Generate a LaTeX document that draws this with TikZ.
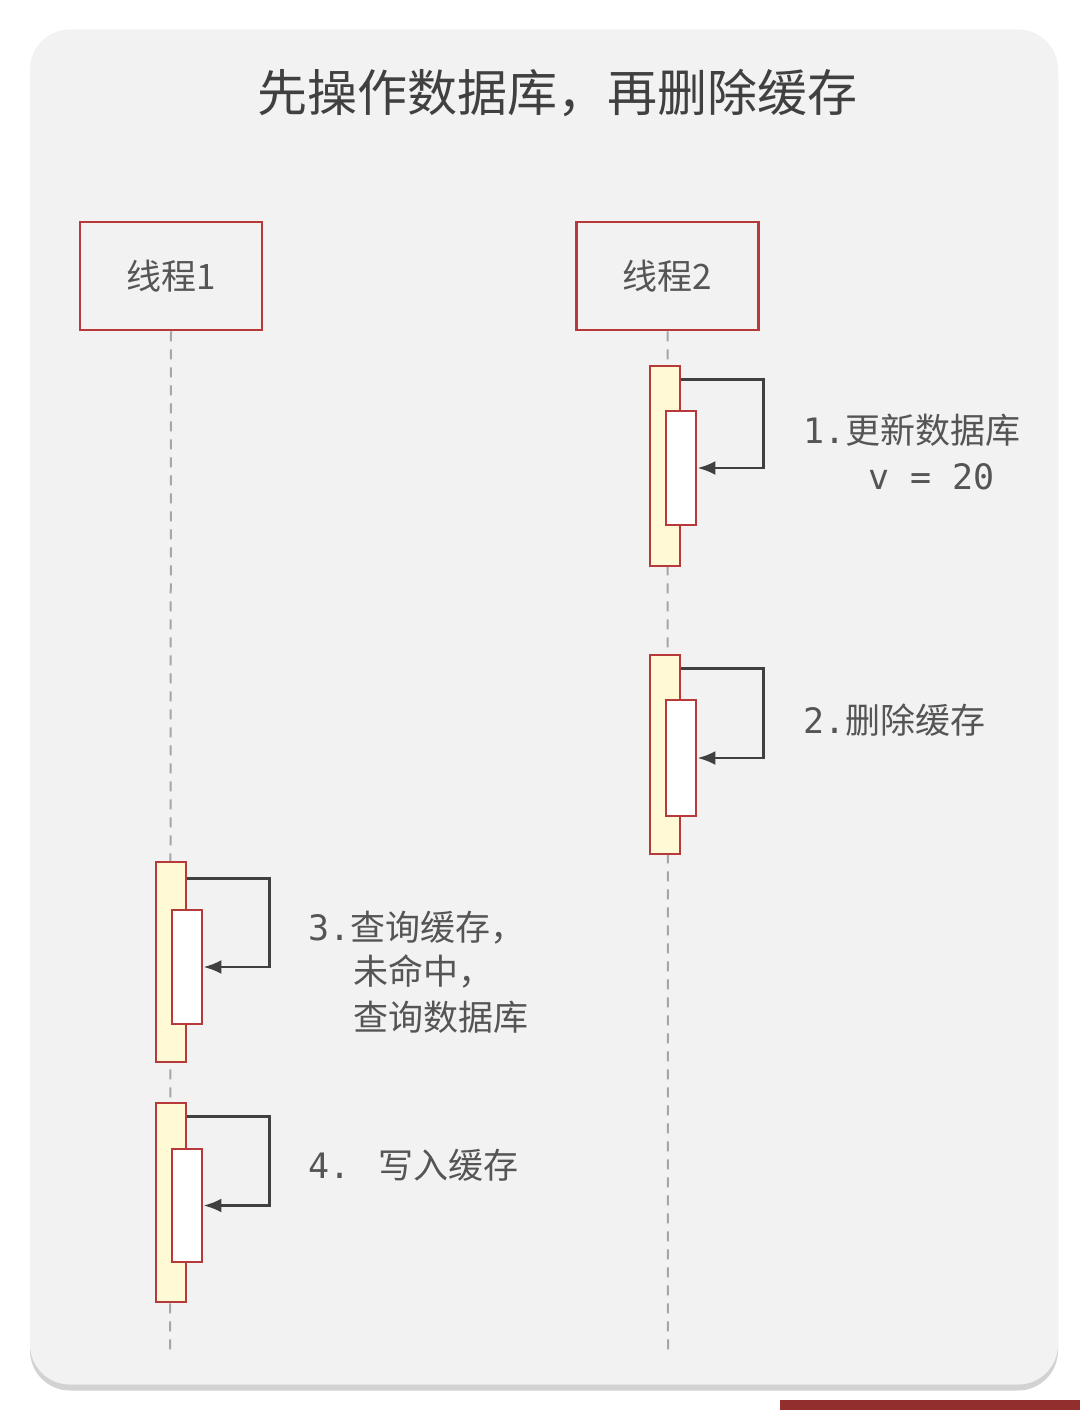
\documentclass[tikz,border=0pt]{standalone}
\usepackage{fontspec}
\setmainfont{Noto Sans CJK SC}
\newfontfamily\monof{DejaVu Sans Mono}
\usetikzlibrary{arrows.meta,shadows}
\definecolor{panel}{HTML}{F2F2F2}
\definecolor{redb}{HTML}{B8393A}
\definecolor{txt}{HTML}{555555}
\definecolor{act}{HTML}{FFF9D6}
\begin{document}
\begin{tikzpicture}[x=1pt,y=-1pt,
  thread/.style={draw=redb,line width=2.8pt,fill=panel,minimum width=182pt,minimum height=108pt,font=\fontsize{35}{40}\selectfont,text=txt},
  outer/.style={draw=redb,line width=2.8pt,fill=act,minimum width=30pt,inner sep=0pt},
  inner/.style={draw=redb,line width=2.8pt,fill=white,minimum width=30pt,inner sep=0pt},
  life/.style={draw=gray!70,line width=2pt,dash pattern=on 10pt off 8pt},
  self/.style={draw=black!75,line width=2.8pt,-{Latex[length=18pt,width=14pt]}},
  lab/.style={anchor=west,text=txt,font=\fontsize{35}{45}\selectfont,inner sep=0pt,align=left}]
\useasboundingbox (0,0) rectangle (1080,1410);
\fill[white] (0,0) rectangle (1080,1410);
\fill[redb!80!black] (780,1400) rectangle (1080,1410);
\node[draw=none,fill=panel,rounded corners=40pt,minimum width=1028pt,minimum height=1355pt,drop shadow={shadow xshift=0pt,shadow yshift=-6pt,opacity=.35}] (panel) at (544,707) {};
\node[text=black!75,font=\fontsize{50}{56}\selectfont] (title) at (557,93) {先操作数据库，再删除缓存};
\node[thread] (t1) at (171,276) {线程1};
\node[thread] (t2) at (667.5,276) {线程2};
\coordinate (e1) at (170,1355);
\coordinate (e2) at (668,1355);
\draw[life] (t1.south) -- (e1);
\draw[life] (t2.south) -- (e2);
\node[outer,minimum height=200pt] (o1) at (665,466) {};
\node[inner,minimum height=114pt] (i1) at (681,468) {};
\node[outer,minimum height=199pt] (o2) at (665,754.5) {};
\node[inner,minimum height=116pt] (i2) at (681,758) {};
\node[outer,minimum height=200pt] (o3) at (171,962) {};
\node[inner,minimum height=114pt] (i3) at (187,967) {};
\node[outer,minimum height=199pt] (o4) at (171,1202.5) {};
\node[inner,minimum height=113pt] (i4) at (187,1205.5) {};
\draw[self] ([yshift=-15pt]o1.north east) -- ++(82,0) |- (i1.east);
\draw[self] ([yshift=-15pt]o2.north east) -- ++(82,0) |- (i2.east);
\draw[self] ([yshift=-18pt]o3.north east) -- ++(82,0) |- (i3.east);
\draw[self] ([yshift=-15pt]o4.north east) -- ++(82,0) |- (i4.east);
\node[lab] (l1) at (803,430) {{\monof 1.}更新数据库};
\node[lab] (l1b) at (868,477) {\monof v = 20};
\node[lab] (l2) at (803,720) {{\monof 2.}删除缓存};
\node[lab] (l3) at (308,928) {{\monof 3.}查询缓存，};
\node[lab] (l3b) at (353,971) {未命中，};
\node[lab] (l3c) at (353,1017) {查询数据库};
\node[lab] (l4) at (308,1165) {{\monof 4. }写入缓存};
\end{tikzpicture}
\end{document}
